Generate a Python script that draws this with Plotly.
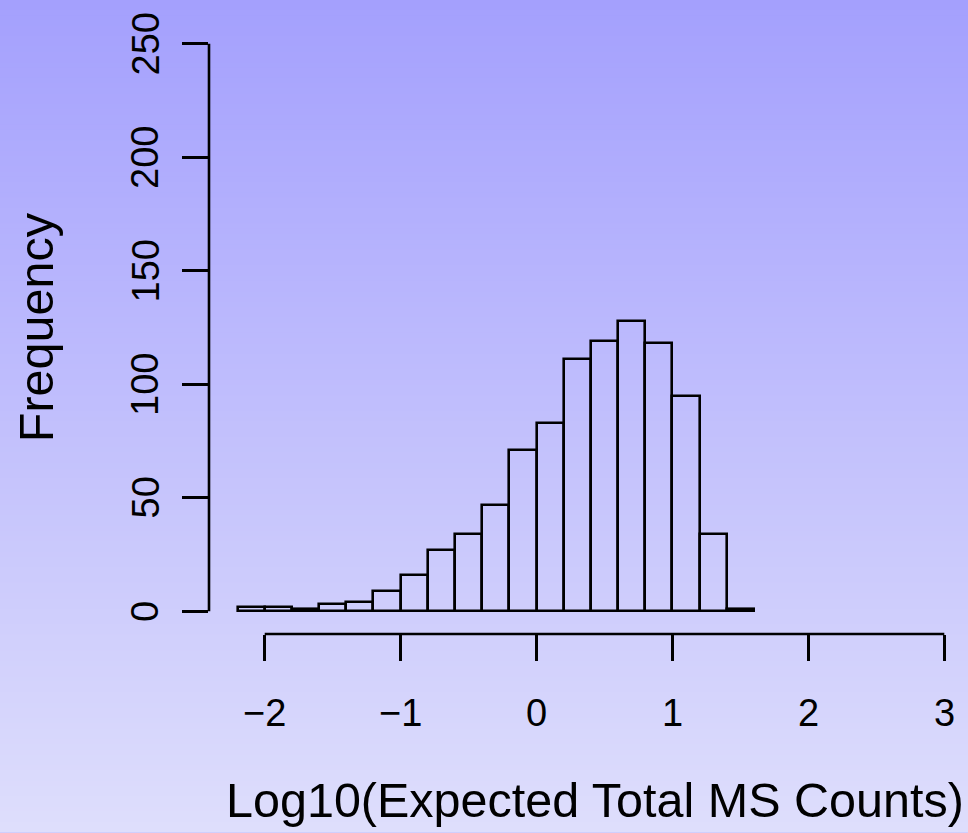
import plotly.graph_objects as go

# Histogram of log10 expected total MS counts (bin width 0.2)
bin_edges = [-2.2, -2.0, -1.8, -1.6, -1.4, -1.2, -1.0, -0.8, -0.6, -0.4, -0.2,
             0.0, 0.2, 0.4, 0.6, 0.8, 1.0, 1.2, 1.4, 1.6]
counts = [2, 2, 1, 3, 4, 9, 16, 27, 34, 47, 71, 83, 111, 119, 128, 118, 95, 34, 1]

x_ticks = [-2, -1, 0, 1, 2, 3]
x_tick_labels = ["\u22122", "\u22121", "0", "1", "2", "3"]
y_ticks = [0, 50, 100, 150, 200, 250]
y_tick_labels = ["0", "50", "100", "150", "200", "250"]

x_title = "Log10(Expected Total MS Counts)"
y_title = "Frequency"

W, H = 968, 833
M_L, M_R, M_T, M_B = 209.3, 0, 21.3, 198.6
PW = W - M_L - M_R
PH = H - M_T - M_B
X_RANGE = [-2.41, 3.1744]
Y_RANGE = [-10, 260]

FONT = "Liberation Sans, Arial, Helvetica, sans-serif"
LINE_W = 2.6

centers = [(a + b) / 2 for a, b in zip(bin_edges[:-1], bin_edges[1:])]
widths = [b - a for a, b in zip(bin_edges[:-1], bin_edges[1:])]

fig = go.Figure()
fig.add_trace(go.Bar(
    x=centers, y=counts, width=widths,
    marker=dict(color="rgba(0,0,0,0)", line=dict(color="black", width=LINE_W)),
    hoverinfo="x+y", showlegend=False,
))

shapes = []

# vertical background gradient across the whole page
top_c = (164, 160, 253)
bot_c = (222, 222, 252)
n_strips = 160
y_lo = -M_B / PH
y_hi = 1 + M_T / PH
for i in range(n_strips):
    t = i / (n_strips - 1)
    c = tuple(round(bot_c[k] + (top_c[k] - bot_c[k]) * t) for k in range(3))
    y0 = y_lo + (y_hi - y_lo) * i / n_strips
    y1 = y_lo + (y_hi - y_lo) * (i + 1) / n_strips + 0.002
    shapes.append(dict(type="rect", xref="paper", yref="paper",
                       x0=-M_L / PW - 0.01, x1=1.01, y0=y0, y1=y1,
                       fillcolor="rgb(%d,%d,%d)" % c, line=dict(width=0),
                       layer="below"))

# axis lines spanning the tick range only
shapes.append(dict(type="line", xref="x", yref="paper",
                   x0=x_ticks[0], x1=x_ticks[-1], y0=0, y1=0,
                   line=dict(color="black", width=LINE_W)))
shapes.append(dict(type="line", xref="paper", yref="y",
                   x0=0, x1=0, y0=y_ticks[0], y1=y_ticks[-1],
                   line=dict(color="black", width=LINE_W)))

annotations = []
for v, lab in zip(x_ticks, x_tick_labels):
    annotations.append(dict(x=v, y=0, xref="x", yref="paper", text=lab,
                            showarrow=False, yanchor="middle", xanchor="center",
                            yshift=-(713 - (H - M_B)),
                            font=dict(size=38, color="black", family=FONT)))
for v, lab in zip(y_ticks, y_tick_labels):
    annotations.append(dict(x=0, y=v, xref="paper", yref="y", text=lab,
                            showarrow=False, xanchor="center", yanchor="middle",
                            xshift=-(M_L - 146), textangle=-90,
                            font=dict(size=38, color="black", family=FONT)))
annotations.append(dict(x=(595 - M_L) / PW, y=0, xref="paper", yref="paper",
                        text=x_title, showarrow=False, xanchor="center",
                        yanchor="middle", yshift=-(800 - (H - M_B)),
                        font=dict(size=48.5, color="black", family=FONT)))
annotations.append(dict(x=0, y=0.5, xref="paper", yref="paper",
                        text=y_title, showarrow=False, xanchor="center",
                        yanchor="middle", xshift=-(M_L - 36), textangle=-90,
                        font=dict(size=48.5, color="black", family=FONT)))

fig.update_layout(
    width=W, height=H,
    margin=dict(l=M_L, r=M_R, t=M_T, b=M_B, pad=0),
    paper_bgcolor="rgb(193,191,252)",
    plot_bgcolor="rgba(0,0,0,0)",
    shapes=shapes,
    annotations=annotations,
    bargap=0,
    xaxis=dict(range=X_RANGE, showgrid=False, zeroline=False, showline=False,
               tickvals=x_ticks, ticks="outside", ticklen=26, tickwidth=LINE_W,
               tickcolor="black", showticklabels=False, fixedrange=True),
    yaxis=dict(range=Y_RANGE, showgrid=False, zeroline=False, showline=False,
               tickvals=y_ticks, ticks="outside", ticklen=26, tickwidth=LINE_W,
               tickcolor="black", showticklabels=False, fixedrange=True),
)

fig.write_html("out.html")
